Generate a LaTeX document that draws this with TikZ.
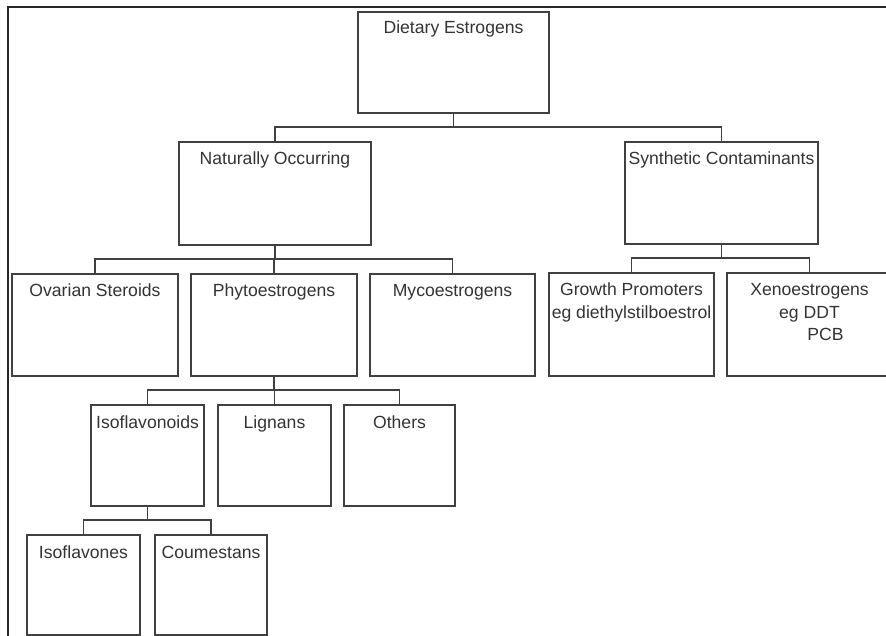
\documentclass[tikz,border=0pt]{standalone}
\usepackage{fontspec}
\setmainfont{Liberation Sans}
\begin{document}
\begin{tikzpicture}[x=1pt,y=-1pt,line cap=butt,line join=miter]
			\tikzset{box/.style={draw=black!75,line width=1.1pt,anchor=north west,inner sep=0pt,outer sep=0pt},
				lbl/.style={anchor=base,inner sep=0pt,align=center,font=\fontsize{17.6}{22}\selectfont,text=black!80},
				link/.style={draw=black!75,line width=1.1pt}
			}
			\useasboundingbox (0,0) rectangle (886,636);
			\clip (0,0) rectangle (886,636);
			\draw[line width=2pt,black!85] (8,7) rectangle (900,650);
			% top level
			\node[box,minimum width=191,minimum height=101] (diet) at (358,12) {};
			\node[box,minimum width=192,minimum height=103] (nat) at (179,142) {};
			\node[box,minimum width=193,minimum height=102] (syn) at (625,142) {};
			% second level
			\node[box,minimum width=166,minimum height=102] (ova) at (12,274) {};
			\node[box,minimum width=166,minimum height=102] (phy) at (191,274) {};
			\node[box,minimum width=165,minimum height=102] (myc) at (370,274) {};
			\node[box,minimum width=165,minimum height=103] (gro) at (549,273) {};
			\node[box,minimum width=165,minimum height=103] (xen) at (727,273) {};
			% third level
			\node[box,minimum width=113,minimum height=101] (isf) at (91,405) {};
			\node[box,minimum width=113,minimum height=101] (lig) at (218,405) {};
			\node[box,minimum width=111,minimum height=101] (oth) at (344,405) {};
			\node[box,minimum width=113,minimum height=100] (ifv) at (27,535) {};
			\node[box,minimum width=112,minimum height=100] (cou) at (155,535) {};
			% labels (base of a multi-line label is its last line)
			\node[lbl] (dietT) at ([yshift=-22]diet.north) {Dietary Estrogens};
			\node[lbl] (natT) at ([yshift=-23]nat.north) {Naturally Occurring};
			\node[lbl] (synT) at ([yshift=-23]syn.north) {Synthetic Contaminants};
			\node[lbl] (ovaT) at ([yshift=-23]ova.north) {Ovarian Steroids};
			\node[lbl] (phyT) at ([yshift=-23]phy.north) {Phytoestrogens};
			\node[lbl] (mycT) at ([yshift=-23]myc.north) {Mycoestrogens};
			\node[lbl] (groT) at ([yshift=-45]gro.north) {Growth Promoters\\eg diethylstilboestrol};
			\node[lbl] (xenT) at ([yshift=-67]xen.north) {Xenoestrogens\\eg DDT\\\hspace*{32pt}PCB};
			\node[lbl] (isfT) at ([yshift=-23]isf.north) {Isoflavonoids};
			\node[lbl] (ligT) at ([yshift=-23]lig.north) {Lignans};
			\node[lbl] (othT) at ([yshift=-23]oth.north) {Others};
			\node[lbl] (ifvT) at ([yshift=-23]ifv.north) {Isoflavones};
			\node[lbl] (couT) at ([yshift=-23]cou.north) {Coumestans};
			% connectors
			\draw[link] (diet.south) -- ++(0,14) -| (nat.north);
			\draw[link] (diet.south) -- ++(0,14) -| (syn.north);
			\foreach \kid in {ova,phy,myc}
				\draw[link] (nat.south) -- ++(0,14) -| (\kid.north);
			\foreach \kid in {gro,xen}
				\draw[link] (syn.south) -- ++(0,14) -| (\kid.north);
			\foreach \kid in {isf,lig,oth}
				\draw[link] (phy.south) -- ++(0,14) -| (\kid.north);
			\foreach \kid in {ifv,cou}
				\draw[link] (isf.south) -- ++(0,14) -| (\kid.north);
	\end{tikzpicture}
\end{document}
